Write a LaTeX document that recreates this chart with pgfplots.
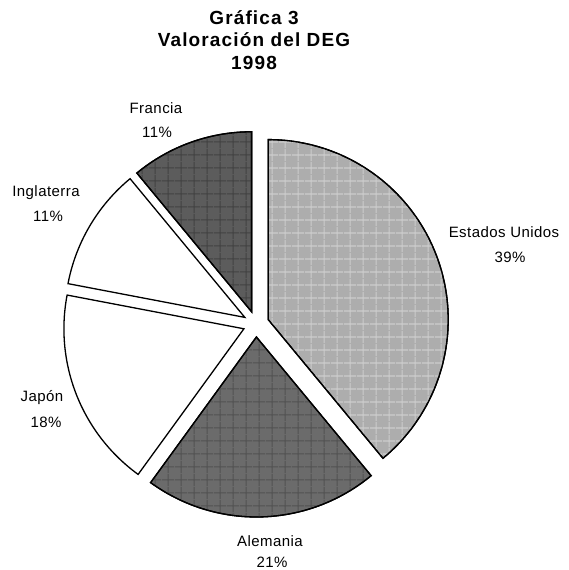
\documentclass[border=0pt]{standalone}
\usepackage{fontspec}
\setmainfont{Liberation Sans}
\usepackage{pgfplots}
\pgfplotsset{compat=1.18}
\usetikzlibrary{patterns.meta}

% shares (%) of each slice, clockwise from 12 o'clock
\def\pEU{39}\def\pAl{21}\def\pJa{18}\def\pIn{11}\def\pFr{11}
\def\R{180}\def\D{13}\def\cx{256}\def\cy{246}

\newcommand\pieslice[3]{% #1 from angle, #2 to angle, #3 style
  \pgfmathsetmacro\mid{(#1+#2)/2}%
  \pgfmathsetmacro\ox{\cx+\D*cos(\mid)}%
  \pgfmathsetmacro\oy{\cy+\D*sin(\mid)}%
  \edef\temp{\noexpand\addplot[#3, domain=#1:#2, samples=90, variable=\noexpand\t]
    ({\ox+\R*cos(\noexpand\t)},{\oy+\R*sin(\noexpand\t)}) -- (axis cs:\ox,\oy) -- cycle;}%
  \temp}

\begin{document}
\begin{tikzpicture}
\pgfmathsetmacro\aA{90}
\pgfmathsetmacro\aB{\aA-3.6*\pEU}
\pgfmathsetmacro\aC{\aB-3.6*\pAl}
\pgfmathsetmacro\aD{\aC-3.6*\pJa}
\pgfmathsetmacro\aE{\aD-3.6*\pIn}
\pgfmathsetmacro\aF{\aE-3.6*\pFr}
\begin{axis}[
  width=569pt, height=570pt, scale only axis,
  xmin=0, xmax=569, ymin=0, ymax=570,
  hide axis, clip=false,
]
% invisible frame so that the picture covers the whole canvas
\addplot[draw=none, forget plot] coordinates {(0,0) (569,570)};
\pieslice{\aB}{\aA}{draw=black, line width=1.3pt, fill=black!32, postaction={pattern={Hatch[angle=0,distance=13pt,line width=1.2pt]}, pattern color=black!20}}
\pieslice{\aC}{\aB}{draw=black, line width=1.3pt, fill=black!58, postaction={pattern={Hatch[angle=0,distance=13pt,line width=1.2pt]}, pattern color=black!68}}
\pieslice{\aD}{\aC}{draw=black, line width=1.3pt, fill=white}
\pieslice{\aE}{\aD}{draw=black, line width=1.3pt, fill=white}
\pieslice{\aF}{\aE}{draw=black, line width=1.3pt, fill=black!64, postaction={pattern={Hatch[angle=0,distance=13pt,line width=1.2pt]}, pattern color=black!74}}

\tikzset{ttl/.style={font=\fontsize{19}{22}\selectfont\bfseries\addfontfeature{LetterSpace=6}, inner sep=0pt}}
\node[ttl] at (axis cs:254,552) {Gráfica 3};
\node[ttl] at (axis cs:254,530) {Valoración del DEG};
\node[ttl] at (axis cs:254,507) {1998};

\tikzset{lab/.style={font=\fontsize{15}{18}\selectfont\addfontfeature{LetterSpace=3}, inner sep=0pt}}
\node[lab] at (axis cs:504,338) {Estados Unidos};
\node[lab] at (axis cs:510,313) {\pEU\%};
\node[lab] at (axis cs:270,29) {Alemania};
\node[lab] at (axis cs:272,8) {\pAl\%};
\node[lab] at (axis cs:42,172) {Japón};
\node[lab] at (axis cs:46,148) {\pJa\%};
\node[lab] at (axis cs:46,377) {Inglaterra};
\node[lab] at (axis cs:48,354) {\pIn\%};
\node[lab] at (axis cs:156,462) {Francia};
\node[lab] at (axis cs:157,438) {\pFr\%};
\end{axis}
\end{tikzpicture}
\end{document}
